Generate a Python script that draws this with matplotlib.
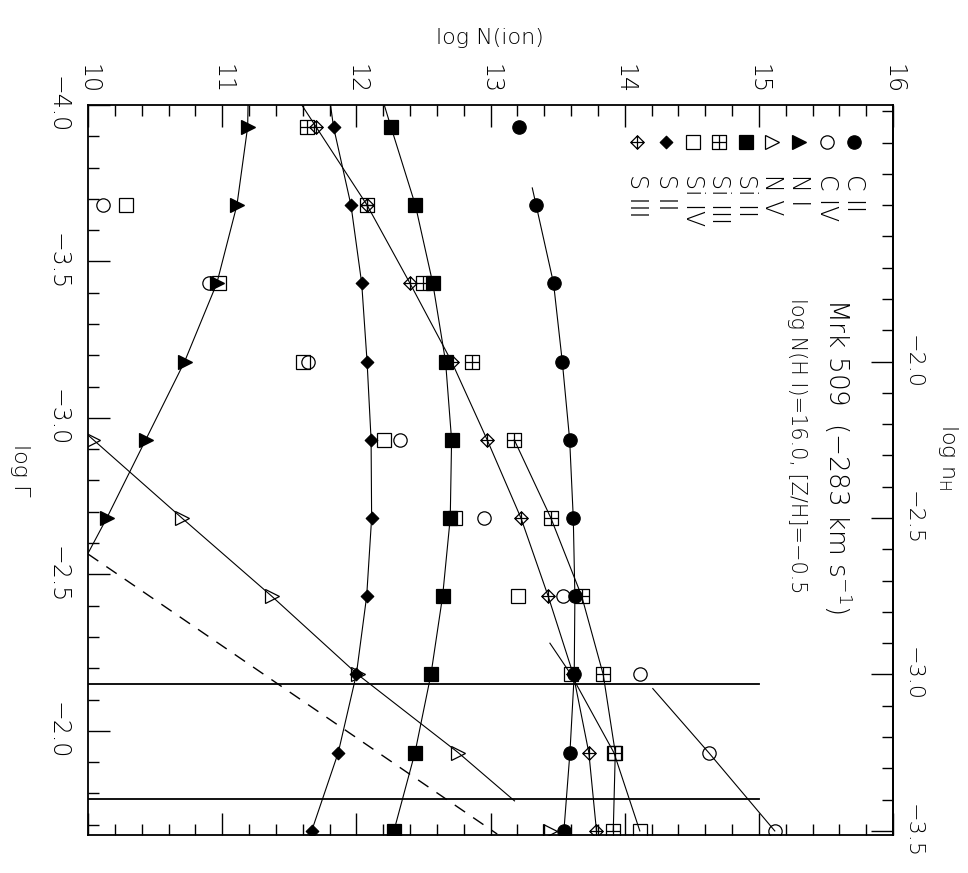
import numpy as np
import matplotlib
matplotlib.use("Agg")
import matplotlib.pyplot as plt
from matplotlib.path import Path
from matplotlib.ticker import MultipleLocator, FixedLocator, FuncFormatter

plt.rcParams['font.family'] = ['DejaVu Sans']
plt.rcParams['font.weight'] = 'light'
plt.rcParams['mathtext.default'] = 'regular'

nan = np.nan

# ---------------- data ----------------
# log Gamma of the model grid (first entry lies just above the plotted range)
log_gamma = [-4.18, -3.93, -3.68, -3.43, -3.18, -2.93, -2.68, -2.43, -2.18, -1.93, -1.68]

C_II   = [nan, 13.21, 13.34, 13.47, 13.535, 13.59, 13.617, 13.629, 13.624, 13.592, 13.547]
C_IV   = [nan, nan, 10.11, 10.90, 11.64, 12.325, 12.953, 13.54, 14.118, 14.627, 15.119]
N_I    = [11.20, 11.19, 11.11, 10.96, 10.72, 10.43, 10.14, 9.83, nan, nan, nan]
N_V    = [nan, nan, nan, nan, 9.38, 10.04, 10.70, 11.37, 12.01, 12.76, 13.44]
Si_II  = [12.08, 12.258, 12.44, 12.57, 12.665, 12.71, 12.70, 12.643, 12.556, 12.437, 12.28]
Si_III = [nan, 11.63, 12.08, 12.50, 12.864, 13.177, 13.45, 13.68, 13.84, 13.93, 13.915]
Si_IV  = [nan, nan, 10.28, 10.98, 11.60, 12.206, 12.735, 13.207, 13.60, 13.92, 14.113]
S_II   = [11.75, 11.83, 11.96, 12.04, 12.08, 12.11, 12.114, 12.077, 12.00, 11.865, 11.667]
S_III  = [11.32, 11.70, 12.08, 12.40, 12.71, 12.975, 13.227, 13.43, 13.617, 13.733, 13.79]

ion_names = ["C II", "C IV", "N I", "N V", "Si II", "Si III", "Si IV", "S II", "S III"]
ion_values = [C_II, C_IV, N_I, N_V, Si_II, Si_III, Si_IV, S_II, S_III]
# log Gamma range over which each model curve is drawn
line_from = [-3.735, -2.135, -4.18, -4.18, -4.18, -2.93, -2.28, -4.18, -4.18]
line_to   = [-1.68, -1.68, -2.43, -1.776, -1.68, -1.68, -1.68, -1.68, -1.68]

# dashed line and the two horizontal limits
dashed_N = [10.0, 13.05]
dashed_gamma = [-2.565, -1.67]
hline_gamma = [-2.151, -1.782]
hline_N = [10.0, 15.0]

# log n_H = nH_offset - log Gamma
nH_offset = -5.18

x_ticks = [10, 11, 12, 13, 14, 15, 16]
y_ticks = [-4.0, -3.5, -3.0, -2.5, -2.0]
nH_ticks = [-2.0, -2.5, -3.0, -3.5]

# ---------------- marker shapes ----------------
M, L, C = Path.MOVETO, Path.LINETO, Path.CLOSEPOLY
diamond = Path([(0, 1), (1, 0), (0, -1), (-1, 0), (0, 1)], [M, L, L, L, C])
diamond_plus = Path([(0, 1), (1, 0), (0, -1), (-1, 0), (0, 1),
                     (-1, 0), (1, 0), (0, -1), (0, 1)],
                    [M, L, L, L, C, M, L, M, L])
square_plus = Path([(-1, -1), (1, -1), (1, 1), (-1, 1), (-1, -1),
                    (-1, 0), (1, 0), (0, -1), (0, 1)],
                   [M, L, L, L, C, M, L, M, L])

styles = [
    dict(marker='o', ms=9.6, mfc='k'),
    dict(marker='o', ms=9.6, mfc='none'),
    dict(marker='>', ms=9.4, mfc='k'),
    dict(marker='>', ms=9.4, mfc='none'),
    dict(marker='s', ms=9.6, mfc='k'),
    dict(marker=square_plus, ms=9.4, mfc='none'),
    dict(marker='s', ms=9.6, mfc='none'),
    dict(marker=diamond, ms=9.0, mfc='k'),
    dict(marker=diamond_plus, ms=9.6, mfc='none'),
]

# ---------------- figure ----------------
fig = plt.figure(figsize=(9.68, 8.73), dpi=100)
ax = fig.add_axes([88 / 968, 1 - 835 / 873, (893 - 88) / 968, (835 - 105) / 873])
ax.set_xlim(10, 16)
ax.set_ylim(-1.667, -4.0)

g = np.array(log_gamma)
for vals, g0, g1, st in zip(ion_values, line_from, line_to, styles):
    v = np.array(vals, dtype=float)
    ok = ~np.isnan(v)
    gg, vv = g[ok], v[ok]
    # model curve
    inner = (gg > g0) & (gg < g1)
    lg = np.concatenate([[g0], gg[inner], [g1]])
    lv = np.interp(lg, gg, vv)
    ax.plot(lv, lg, color='k', lw=0.8, zorder=2)
    # model points
    ax.plot(vv, gg, ls='none', color='k', mec='k', mew=0.9, zorder=3, **st)

ax.plot(dashed_N, dashed_gamma, color='k', lw=1.0, ls=(0, (9, 7)), zorder=2)
for hg in hline_gamma:
    ax.plot(hline_N, [hg, hg], color='k', lw=1.3, zorder=2)

# ---------------- axes styling ----------------
for sp in ax.spines.values():
    sp.set_linewidth(1.3)
ax.xaxis.set_major_locator(FixedLocator(x_ticks))
ax.xaxis.set_minor_locator(MultipleLocator(0.2))
ax.yaxis.set_major_locator(FixedLocator(y_ticks))
ax.yaxis.set_minor_locator(MultipleLocator(0.1))
ax.xaxis.set_major_formatter(FuncFormatter(lambda v, p: f"{v:.0f}"))
ax.yaxis.set_major_formatter(FuncFormatter(lambda v, p: f"{v:.1f}".replace('-', '\u2212')))
ax.tick_params(axis='x', which='both', direction='in', top=True, bottom=True,
               labeltop=True, labelbottom=False, labelrotation=-90, labelsize=17, pad=8)
ax.tick_params(axis='y', which='both', direction='in', left=True, right=False,
               labelleft=True, labelright=False, labelrotation=-90, labelsize=17, pad=13)
ax.tick_params(which='major', length=16, width=1.0)
ax.tick_params(which='minor', length=8, width=1.0)
for t in ax.get_yticklabels():
    t.set_verticalalignment('center')

sec = ax.secondary_yaxis('right', functions=(lambda x: nH_offset - x, lambda x: nH_offset - x))
sec.yaxis.set_major_locator(FixedLocator(nH_ticks))
sec.yaxis.set_minor_locator(MultipleLocator(0.1))
sec.yaxis.set_major_formatter(FuncFormatter(lambda v, p: f"{v:.1f}".replace('-', '\u2212')))
sec.tick_params(axis='y', which='both', direction='in', labelrotation=-90, labelsize=16, pad=7)
sec.tick_params(which='major', length=16, width=1.0)
sec.tick_params(which='minor', length=8, width=1.0)
sec.spines['right'].set_linewidth(1.3)
for t in sec.get_yticklabels():
    t.set_verticalalignment('center')

# axis titles
fig.text(490 / 968, 1 - 38 / 873, "log N(ion)", ha='center', va='center', fontsize=16)
fig.text(20 / 968, 1 - 470 / 873, "log \u0393", ha='center', va='center', fontsize=16,
         rotation=-90)
fig.text(948 / 968, 1 - 457 / 873, "log n$_{H}$", ha='center', va='center', fontsize=16,
         rotation=-90)

# ---------------- legend ----------------
leg_x = [854, 827, 799, 772, 746, 719, 693, 666, 637]
for name, st, lx in zip(ion_names, styles, leg_x):
    xa = (lx - 88) / 805
    ax.plot([xa], [0.95], transform=ax.transAxes, ls='none', color='k', mec='k',
            mew=0.9, clip_on=False, **st)
    ax.text(xa, 0.905, name, transform=ax.transAxes, rotation=-90, ha='center',
            va='top', fontsize=17)

ax.text((838 - 88) / 805, 1 - (298 - 105) / 730, "Mrk 509  (\u2212283 km s$^{-1}$)",
        transform=ax.transAxes, rotation=-90, ha='center', va='top', fontsize=19)
ax.text((797 - 88) / 805, 1 - (298 - 105) / 730, "log N(H I)=16.0, [Z/H]=\u22120.5",
        transform=ax.transAxes, rotation=-90, ha='center', va='top', fontsize=15)

fig.savefig("out.png", dpi=100)
